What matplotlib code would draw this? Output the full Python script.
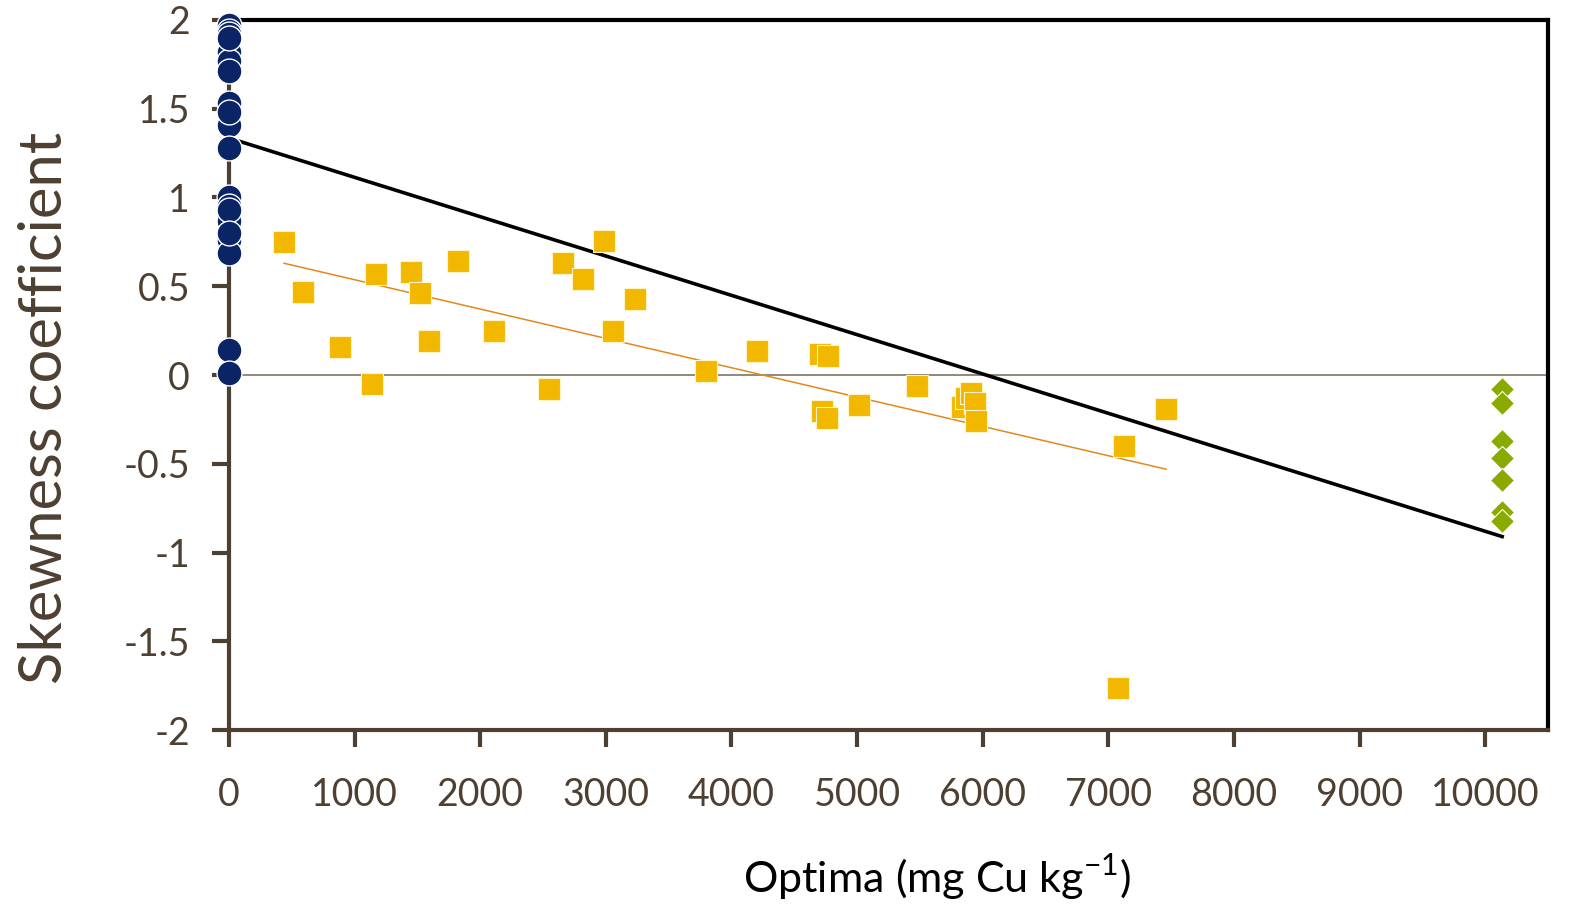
import numpy as np
import matplotlib
matplotlib.use("Agg")
import matplotlib.pyplot as plt

plt.rcParams['font.family'] = ['Lato', 'DejaVu Sans']

# Skewness of species response curves vs. their Cu optima
low_x = [0] * 21
low_y = [1.97, 1.94, 1.92, 1.82, 1.77, 1.71, 1.53, 1.46, 1.41, 1.28,
         1.00, 0.95, 0.87, 0.76, 0.69, 0.14, 0.01, 1.90, 1.48, 0.93, 0.80]

mid_x = [438, 589, 884, 1139, 1170, 1449, 1521, 1592, 1823, 2110, 2548,
         2659, 2818, 2986, 3057, 3232, 3798, 4204, 4705, 4769, 4721, 4761,
         5016, 5478, 5836, 5870, 5910, 5940, 5950, 7126, 7460, 7078]
mid_y = [0.75, 0.47, 0.16, -0.05, 0.57, 0.58, 0.46, 0.19, 0.64, 0.25, -0.08,
         0.63, 0.54, 0.755, 0.25, 0.43, 0.02, 0.135, 0.12, 0.11, -0.20, -0.24,
         -0.17, -0.06, -0.18, -0.13, -0.10, -0.16, -0.26, -0.40, -0.19, -1.76]

high_x = [10135] * 7
high_y = [-0.08, -0.16, -0.37, -0.47, -0.59, -0.77, -0.82]

# Linear trends: (intercept, slope, x range)
all_fit = (1.335, -2.215e-4, (0, 10135))
mid_fit = (0.702, -1.652e-4, (438, 7460))

navy = '#0B2466'
gold = '#F2B800'
green = '#8AAA00'
orange = '#E0891C'
brown = '#4D4032'

fig = plt.figure(figsize=(15.78, 9.07), dpi=100)
ax = fig.add_axes([0.1451, 0.195, 0.981 - 0.1451, 0.978 - 0.195])

ax.axhline(0, color='#7F7466', lw=1.2, zorder=1)

xs = np.array(all_fit[2])
ax.plot(xs, all_fit[0] + all_fit[1] * xs, color='black', lw=2.6, zorder=2)
xs = np.array(mid_fit[2])
ax.plot(xs, mid_fit[0] + mid_fit[1] * xs, color=orange, lw=1.1, zorder=2)

ax.scatter(mid_x, mid_y, marker='s', s=270, color=gold, edgecolors='#FFF3C8',
           linewidths=0.8, zorder=3)
ax.scatter(high_x, high_y, marker='D', s=150, color=green, edgecolors='white',
           linewidths=0.8, zorder=3)
ax.scatter(low_x, low_y, marker='o', s=320, color=navy, edgecolors='white',
           linewidths=1.0, zorder=4, clip_on=False)

ax.set_xlim(0, 10500)
ax.set_ylim(-2, 2)
ax.set_xticks(np.arange(0, 10001, 1000))
ax.set_yticks([-2, -1.5, -1, -0.5, 0, 0.5, 1, 1.5, 2])
ax.set_yticklabels(['-2', '-1.5', '-1', '-0.5', '0', '0.5', '1', '1.5', '2'])

for side in ('left', 'bottom'):
    ax.spines[side].set_color(brown)
    ax.spines[side].set_linewidth(3)
for side in ('top', 'right'):
    ax.spines[side].set_color('black')
    ax.spines[side].set_linewidth(3)

ax.tick_params(axis='both', direction='out', length=12, width=3, color=brown,
               labelcolor=brown, labelsize=27)
ax.tick_params(axis='x', pad=22)
ax.tick_params(axis='y', pad=16)

ax.set_xlabel('Optima (mg Cu kg$^{\\mathregular{-1}}$)', fontsize=31, color='black')
ax.set_ylabel('Skewness coefficient', fontsize=43, color=brown)
ax.xaxis.set_label_coords(0.537, -0.172)
ax.yaxis.set_label_coords(-0.119, 0.4535)

fig.savefig('out.png', dpi=100)
